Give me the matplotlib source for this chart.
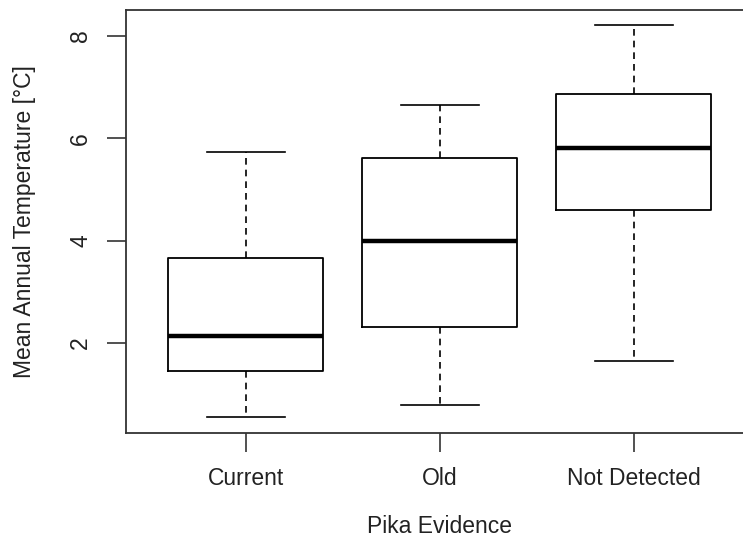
import matplotlib
matplotlib.use("Agg")
import matplotlib.pyplot as plt

categories = ["Current", "Old", "Not Detected"]
whislo = [0.55, 0.79, 1.65]
q1 = [1.45, 2.31, 4.60]
med = [2.14, 4.00, 5.81]
q3 = [3.66, 5.61, 6.87]
whishi = [5.73, 6.65, 8.21]
yticks = [2, 4, 6, 8]

plt.rcParams['font.family'] = ['Liberation Sans', 'DejaVu Sans']

fig = plt.figure(figsize=(7.43, 5.45), dpi=100)
W, H = 743, 545
left, right, top, bottom = 125.5, 754, 10, 432.5
ax = fig.add_axes([left / W, 1 - bottom / H, (right - left) / W, (bottom - top) / H])

stats = []
for i, c in enumerate(categories):
    stats.append(dict(label=c, whislo=whislo[i], q1=q1[i], med=med[i], q3=q3[i], whishi=whishi[i], fliers=[]))

ax.bxp(stats, positions=[1, 2, 3], widths=0.8, showfliers=False,
       boxprops=dict(color='black', linewidth=1.3),
       medianprops=dict(color='black', linewidth=3.2, solid_capstyle='butt'),
       whiskerprops=dict(color='black', linewidth=1.2, linestyle=(0, (4, 3))),
       capprops=dict(color='black', linewidth=1.2),
       capwidths=0.4)

ax.set_xlim(0.38, 3.62)
ax.set_yticks(yticks)
ax.set_yticklabels([str(v) for v in yticks], rotation=90, va='center', fontsize=16.5)
ax.set_xticks([1, 2, 3])
ax.set_xticklabels(categories, fontsize=16.5)
ax.tick_params(axis='both', length=14, width=1.2, color='#333333', pad=10, labelcolor='#222222')
ax.tick_params(axis='x', pad=11)
# ylim from pixel mapping: 8 at y=36, 2 at y=343
ppu = (343 - 36) / 6.0
ytop = 8 + (36 - top) / ppu
ybot = 2 - (bottom - 343) / ppu
ax.set_ylim(ybot, ytop)

for s in ax.spines.values():
    s.set_linewidth(1.3)
    s.set_color('#333333')

ax.set_xlabel("Pika Evidence", fontsize=16.5, labelpad=18, color='#222222')
ax.set_ylabel("Mean Annual Temperature [°C]", fontsize=16.5, labelpad=24, color='#222222')

fig.savefig("out.png", dpi=100)
